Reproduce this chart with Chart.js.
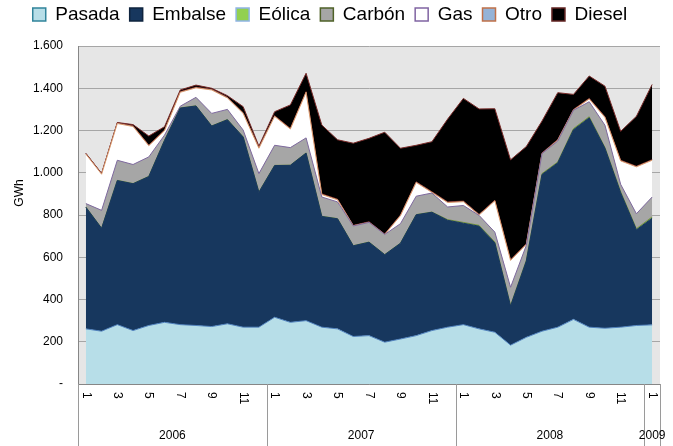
<!DOCTYPE html>
<html lang="es">
<head>
<meta charset="utf-8">
<title>Generación mensual por tipo</title>
<script src="https://cdn.jsdelivr.net/npm/chart.js@4.4.1/dist/chart.umd.min.js"></script>
<style>
  html, body { margin: 0; padding: 0; background: #fff; }
  canvas { display: block; }
</style>
</head>
<body>
<canvas id="generacion" width="673" height="446"></canvas>
<script>
// ene-2006 .. ene-2009
const meses = [1,2,3,4,5,6,7,8,9,10,11,12, 1,2,3,4,5,6,7,8,9,10,11,12, 1,2,3,4,5,6,7,8,9,10,11,12, 1];
const anios = [2006,2006,2006,2006,2006,2006,2006,2006,2006,2006,2006,2006,
               2007,2007,2007,2007,2007,2007,2007,2007,2007,2007,2007,2007,
               2008,2008,2008,2008,2008,2008,2008,2008,2008,2008,2008,2008,
               2009];

// GWh por mes
const pasada  = [261,250,281,253,277,292,281,277,272,285,269,269, 316,292,300,269,261,225,229,198,213,229,253,269, 281,261,245,184,221,250,269,306,269,264,269,277, 280];
const embalse = [576,487,682,695,705,861,1025,1039,949,966,900,639, 718,743,793,524,521,429,442,414,453,572,560,506, 480,486,423,185,361,742,778,898,991,852,636,453, 505];
const eolica  = [1,1,1,1,1,1,1,1,1,1,1,1, 1,1,1,1,1,1,1,1,1,1,1,3, 4,4,4,3,3,4,4,5,5,4,5,5, 6];
const carbon  = [16,84,95,90,92,24,8,40,59,48,32,87, 95,83,71,91,79,93,93,95,92,87,90,60, 80,47,47,86,71,95,99,87,71,105,35,71, 94];
const gas     = [234,171,174,180,53,21,66,45,111,54,79,120, 137,88,216,12,10,1,0,0,38,65,3,21, 18,2,148,127,5,0,4,1,13,37,111,222, 174];
const otro    = [3,3,3,3,3,3,3,3,3,3,3,3, 3,3,3,3,3,2,3,2,3,3,3,3, 3,3,3,3,3,3,3,3,3,3,3,3, 3];
const diesel  = [1,1,2,6,43,16,8,10,5,8,29,7, 19,111,87,326,281,389,395,482,316,173,237,392, 486,499,433,473,460,151,222,71,106,145,137,236, 356];

const series = [
  { nombre: 'Pasada',  datos: pasada,  relleno: '#b7dee8', linea: '#4f81bd', borde: '#31849b' },
  { nombre: 'Embalse', datos: embalse, relleno: '#17375e', linea: '#17375e', borde: '#0f243e' },
  { nombre: 'Eólica',  datos: eolica,  relleno: '#92d050', linea: '#77933c', borde: '#8eb4e3' },
  { nombre: 'Carbón',  datos: carbon,  relleno: '#a6a6a6', linea: '#7f6a9f', borde: '#4f6228' },
  { nombre: 'Gas',     datos: gas,     relleno: '#ffffff', linea: '#d99a6c', borde: '#8064a2' },
  { nombre: 'Otro',    datos: otro,    relleno: '#95b3d7', linea: '#7b2c2a', borde: '#c0714a' },
  { nombre: 'Diesel',  datos: diesel,  relleno: '#000000', linea: '#7b2c2a', borde: '#632523' }
];

const fuente = '"Liberation Sans", Arial, sans-serif';

// fondo gris del área de trazado
const fondoGrafico = {
  id: 'fondoGrafico',
  beforeDraw(chart) {
    const { ctx, chartArea: a } = chart;
    ctx.save();
    ctx.fillStyle = '#e6e6e6';
    ctx.fillRect(a.left, a.top, a.right - a.left, a.bottom - a.top);
    ctx.restore();
  }
};

// espacio extra bajo la leyenda
const margenLeyenda = {
  id: 'margenLeyenda',
  beforeInit(chart) {
    const fitOriginal = chart.legend.fit;
    chart.legend.fit = function () {
      fitOriginal.call(this);
      this.height += 12;
    };
  }
};

// eje de categorías en dos niveles: mes (rotado) y año
const ejeMeses = {
  id: 'ejeMeses',
  afterDraw(chart) {
    const { ctx, scales: { x }, chartArea: a } = chart;
    const base = a.bottom;
    const fondo = chart.height;
    ctx.save();
    ctx.fillStyle = '#000';
    ctx.font = '12px ' + fuente;

    meses.forEach((m, i) => {
      if (m % 2 === 0) return;
      ctx.save();
      ctx.translate(x.getPixelForValue(i), base + 8);
      ctx.rotate(Math.PI / 2);
      ctx.textAlign = 'left';
      ctx.textBaseline = 'middle';
      ctx.fillText(String(m), 0, 0);
      ctx.restore();
    });

    const cortes = [a.left];
    const grupos = [anios[0]];
    anios.forEach((an, i) => {
      if (i > 0 && an !== anios[i - 1]) {
        cortes.push((x.getPixelForValue(i - 1) + x.getPixelForValue(i)) / 2);
        grupos.push(an);
      }
    });
    cortes.push(a.right);

    ctx.strokeStyle = '#9a9a9a';
    ctx.lineWidth = 1;
    ctx.beginPath();
    cortes.forEach(c => {
      const cx = Math.round(c) + 0.5;
      ctx.moveTo(cx, base);
      ctx.lineTo(cx, fondo);
    });
    ctx.stroke();

    ctx.textAlign = 'center';
    ctx.textBaseline = 'middle';
    grupos.forEach((an, k) => {
      ctx.fillText(String(an), (cortes[k] + cortes[k + 1]) / 2, 436);
    });

    // título del eje de valores
    ctx.save();
    ctx.translate(20, 193);
    ctx.rotate(-Math.PI / 2);
    ctx.fillText('GWh', 0, 0);
    ctx.restore();

    ctx.restore();
  }
};

function formatoMiles(v) {
  if (v === 0) return '-';
  if (v < 1000) return String(v);
  return Math.floor(v / 1000) + '.' + String(v % 1000).padStart(3, '0');
}

new Chart(document.getElementById('generacion'), {
  type: 'line',
  data: {
    labels: meses.map((m, i) => anios[i] + '-' + m),
    datasets: series.map((s, i) => ({
      label: s.nombre,
      data: s.datos,
      backgroundColor: s.relleno,
      borderColor: s.linea,
      borderWidth: 1,
      pointRadius: 0,
      tension: 0,
      fill: i === 0 ? 'origin' : '-1'
    }))
  },
  options: {
    responsive: false,
    animation: false,
    devicePixelRatio: 1,
    layout: { padding: { top: -5, right: 13, bottom: 0, left: 0 } },
    scales: {
      x: {
        offset: true,
        grid: { display: false },
        border: { display: true, color: '#868686' },
        ticks: { display: false },
        afterFit(scale) { scale.height = 62; }
      },
      y: {
        stacked: true,
        min: 0,
        max: 1600,
        ticks: {
          stepSize: 200,
          padding: 15,
          color: '#000',
          font: { family: fuente, size: 12 },
          callback: v => formatoMiles(v)
        },
        grid: { color: '#a6a6a6', drawTicks: false },
        border: { display: true, color: '#868686' },
        afterFit(scale) { scale.width = 78; }
      }
    },
    plugins: {
      tooltip: { enabled: false },
      legend: {
        position: 'top',
        labels: {
          boxWidth: 13,
          boxHeight: 13,
          padding: 10,
          color: '#000',
          font: { family: fuente, size: 19 },
          generateLabels(chart) {
            return Chart.defaults.plugins.legend.labels.generateLabels(chart).map((item, i) => ({
              ...item,
              strokeStyle: series[i].borde,
              lineWidth: 1.5
            }));
          }
        }
      }
    }
  },
  plugins: [fondoGrafico, margenLeyenda, ejeMeses]
});
</script>
</body>
</html>
